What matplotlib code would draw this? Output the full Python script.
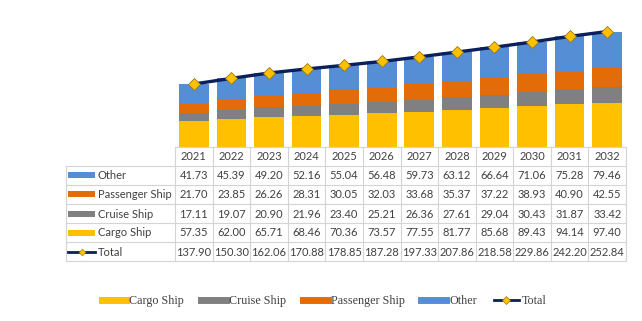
import numpy as np
import matplotlib
matplotlib.use("Agg")
import matplotlib.pyplot as plt
from matplotlib.lines import Line2D
from matplotlib.patches import Rectangle

# données
years = ["2021", "2022", "2023", "2024", "2025", "2026", "2027", "2028", "2029", "2030", "2031", "2032"]
cargo = [57.35, 62.00, 65.71, 68.46, 70.36, 73.57, 77.55, 81.77, 85.68, 89.43, 94.14, 97.40]
cruise = [17.11, 19.07, 20.90, 21.96, 23.40, 25.21, 26.36, 27.61, 29.04, 30.43, 31.87, 33.42]
passenger = [21.70, 23.85, 26.26, 28.31, 30.05, 32.03, 33.68, 35.37, 37.22, 38.93, 40.90, 42.55]
other = [41.73, 45.39, 49.20, 52.16, 55.04, 56.48, 59.73, 63.12, 66.64, 71.06, 75.28, 79.46]
total = [137.90, 150.30, 162.06, 170.88, 178.85, 187.28, 197.33, 207.86, 218.58, 229.86, 242.20, 252.84]

c_cargo = "#FFC000"
c_cruise = "#808080"
c_pass = "#E36C09"
c_other = "#558ED5"
c_total = "#0A1F5C"

W, H = 642, 321
fig = plt.figure(figsize=(W / 100, H / 100), dpi=100)


def px_axes(x0, y0, x1, y1):
    # axes placé en pixels (origine en haut à gauche)
    return fig.add_axes([x0 / W, 1 - y1 / H, (x1 - x0) / W, (y1 - y0) / H])


# --- graphique empilé
ax = px_axes(175, 10, 626, 147)
x = np.arange(len(years))
bw = 0.79
b1 = np.array(cargo)
b2 = b1 + np.array(cruise)
b3 = b2 + np.array(passenger)
ax.bar(x, cargo, bw, color=c_cargo)
ax.bar(x, cruise, bw, bottom=b1, color=c_cruise)
ax.bar(x, passenger, bw, bottom=b2, color=c_pass)
ax.bar(x, other, bw, bottom=b3, color=c_other)
ax.plot(x, total, color=c_total, lw=2.4, marker="D", ms=6.5,
        mfc=c_cargo, mec="#9C7A10", mew=0.6, zorder=5)
ax.set_xlim(-0.5, len(years) - 0.5)
ax.set_ylim(0, 300)
ax.axis("off")

# --- tableau de données
tax = px_axes(66, 147, 626, 261)
tax.set_xlim(66, 626)
tax.set_ylim(261, 147)
tax.axis("off")

lab_x0, col_x0 = 66, 175
col_w = (626 - col_x0) / len(years)
row_h = 19
grid_c = "#D4D4D4"
txt_c = "#404040"
font_t = ["Lato", "DejaVu Sans"]

rows = [("Other", other, c_other, "bar"),
        ("Passenger Ship", passenger, c_pass, "bar"),
        ("Cruise Ship", cruise, c_cruise, "bar"),
        ("Cargo Ship", cargo, c_cargo, "bar"),
        ("Total", total, c_total, "line")]

y_top = 147
y_hdr = y_top + row_h
y_end = y_hdr + row_h * len(rows)

# lignes horizontales
tax.plot([col_x0, 626], [y_top, y_top], color=grid_c, lw=0.8, clip_on=False)
for i in range(len(rows) + 1):
    yy = y_hdr + i * row_h
    tax.plot([lab_x0, 626], [yy, yy], color=grid_c, lw=0.8, clip_on=False)
# lignes verticales
tax.plot([lab_x0, lab_x0], [y_hdr, y_end], color=grid_c, lw=0.8, clip_on=False)
for j in range(len(years) + 1):
    xx = col_x0 + j * col_w
    tax.plot([xx, xx], [y_top, y_end], color=grid_c, lw=0.8, clip_on=False)

for j, yr in enumerate(years):
    tax.text(col_x0 + (j + 0.5) * col_w, y_top + row_h / 2 + 0.5, yr,
             ha="center", va="center", fontsize=8, color=txt_c, family=font_t)

for i, (name, vals, col, kind) in enumerate(rows):
    yc = y_hdr + (i + 0.5) * row_h
    if kind == "bar":
        tax.add_patch(Rectangle((68, yc - 3), 27, 6, color=col, lw=0))
    else:
        tax.plot([68, 95], [yc, yc], color=col, lw=2)
        tax.plot([81.5], [yc], marker="D", ms=3.5, color=c_cargo, mec="#9C7A10", mew=0.4)
    tax.text(98, yc + 0.5, name, ha="left", va="center", fontsize=8,
             color=txt_c, family=font_t)
    for j, v in enumerate(vals):
        tax.text(col_x0 + (j + 0.5) * col_w, yc + 0.5, f"{v:.2f}",
                 ha="center", va="center", fontsize=8, color=txt_c, family=font_t)

# --- légende
handles = [Line2D([], [], color=c_cargo, lw=5),
           Line2D([], [], color=c_cruise, lw=5),
           Line2D([], [], color=c_pass, lw=5),
           Line2D([], [], color=c_other, lw=5),
           Line2D([], [], color=c_total, lw=2, marker="D", ms=4,
                  mfc=c_cargo, mec="#9C7A10", mew=0.5)]
labels = ["Cargo Ship", "Cruise Ship", "Passenger Ship", "Other", "Total"]
fig.legend(handles, labels, loc="center", bbox_to_anchor=(324 / W, 1 - 301 / H),
           ncol=5, frameon=False, handlelength=2.05, handletextpad=0.25,
           columnspacing=1.4, labelcolor="#404040",
           prop={"family": "Liberation Serif", "size": 8.7})

fig.savefig("out.png", dpi=100)
